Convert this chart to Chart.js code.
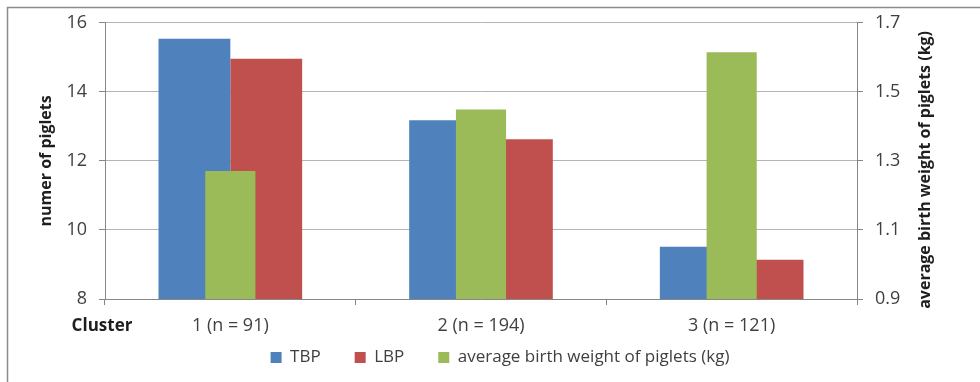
<!DOCTYPE html>
<html>
<head>
<meta charset="utf-8">
<script src="https://cdn.jsdelivr.net/npm/chart.js@4.4.1/dist/chart.umd.min.js"></script>
<style>
  html, body { margin: 0; padding: 0; background: #fff; }
  #wrap { width: 980px; height: 382px; }
</style>
</head>
<body>
<div id="wrap"><canvas id="chart" width="980" height="382"></canvas></div>
<script>
// values
var clusters    = ["1 (n = 91)", "2 (n = 194)", "3 (n = 121)"];
var tbp         = [15.54, 13.18, 9.51];
var lbp         = [14.96, 12.63, 9.14];
var birthWeight = [1.271, 1.449, 1.615];
var pigletTicks = [8, 16, 2];      // min, max, step (left axis)
var weightTicks = [0.9, 1.7, 0.2]; // min, max, step (right axis)

var AXIS = "#868686", GRID = "#b4b4b4", TEXT = "#404040", DARK = "#1e1e1e";
var FONT = '"Open Sans", "Noto Sans", sans-serif';

Chart.defaults.font.family = FONT;
Chart.defaults.color = TEXT;

// frame lines, "Cluster" caption, right-hand title reading upwards, legend placement
var extras = {
  id: "extras",
  afterUpdate: function (chart) {
    var lg = chart.legend;
    if (!lg) return;
    // legend clips to its own box, so give it the whole strip under the axis
    lg.left += 10; lg.right += 10;
    lg.top = 315; lg.bottom = chart.height;
    lg.height = lg.bottom - lg.top;
  },
  beforeDraw: function (chart) {
    var ctx = chart.ctx;
    ctx.save();
    ctx.strokeStyle = "#8c8c8c";
    ctx.lineWidth = 1.5;
    ctx.beginPath();
    ctx.moveTo(7.5, 382);
    ctx.lineTo(7.5, 7.5);
    ctx.lineTo(980, 7.5);
    ctx.stroke();
    ctx.restore();
  },
  afterDraw: function (chart) {
    var ctx = chart.ctx, x = chart.scales.x, y2 = chart.scales.y2;
    ctx.save();
    ctx.fillStyle = DARK;
    ctx.font = "bold 17px " + FONT;
    ctx.textAlign = "center";
    ctx.textBaseline = "middle";
    ctx.fillText("Cluster", x.left - 3, x.top + 27);

    ctx.font = "bold 16px " + FONT;
    ctx.translate(y2.right - 55, (y2.top + y2.bottom) / 2 + 9);
    ctx.rotate(-Math.PI / 2);
    ctx.fillText("average birth weight of piglets (kg)", 0, 0);
    ctx.restore();
  }
};

new Chart(document.getElementById("chart"), {
  type: "bar",
  data: {
    labels: clusters,
    datasets: [
      { label: "TBP", data: tbp, backgroundColor: "#4f81bd", yAxisID: "y",
        categoryPercentage: 0.573, barPercentage: 1 },
      { label: "LBP", data: lbp, backgroundColor: "#c0504d", yAxisID: "y",
        categoryPercentage: 0.573, barPercentage: 1 },
      // secondary-axis series sits over the pair, centred on the category
      { label: "average birth weight of piglets (kg)", data: birthWeight, backgroundColor: "#9bbb59",
        yAxisID: "y2", grouped: false, categoryPercentage: 0.2, barPercentage: 1, order: -1 }
    ]
  },
  options: {
    responsive: false,
    animation: false,
    events: [],
    layout: { padding: { top: 22, right: 0, bottom: 0, left: 0 } },
    plugins: {
      tooltip: { enabled: false },
      legend: {
        position: "bottom",
        maxHeight: 38,
        labels: {
          boxWidth: 11,
          boxHeight: 11,
          padding: 34,
          color: TEXT,
          font: { size: 17 },
          sort: function (a, b) { return a.datasetIndex - b.datasetIndex; }
        }
      }
    },
    scales: {
      x: {
        type: "category",
        offset: true,
        grid: { offset: true, drawOnChartArea: false, drawTicks: true, tickLength: 6, color: AXIS },
        border: { color: AXIS },
        ticks: { font: { size: 18 }, color: TEXT, padding: 10 },
        afterFit: function (s) { s.height = 45; }
      },
      y: {
        position: "left",
        min: pigletTicks[0], max: pigletTicks[1],
        ticks: { stepSize: pigletTicks[2], font: { size: 18 }, color: TEXT, padding: 12 },
        grid: { color: GRID, tickColor: AXIS, tickLength: 6 },
        border: { color: AXIS },
        title: { display: true, text: "numer of piglets", color: DARK,
                 font: { size: 16, weight: "bold" }, padding: { top: 37, bottom: 0 } },
        afterFit: function (s) { s.width = 105; }
      },
      y2: {
        position: "right",
        min: weightTicks[0], max: weightTicks[1],
        ticks: { stepSize: weightTicks[2], font: { size: 18 }, color: TEXT, padding: 12,
                 callback: function (v) { return v.toFixed(1); } },
        grid: { drawOnChartArea: false, tickColor: AXIS, tickLength: 6 },
        border: { color: AXIS },
        afterFit: function (s) { s.width = 123; }
      }
    }
  },
  plugins: [extras]
});
</script>
</body>
</html>
